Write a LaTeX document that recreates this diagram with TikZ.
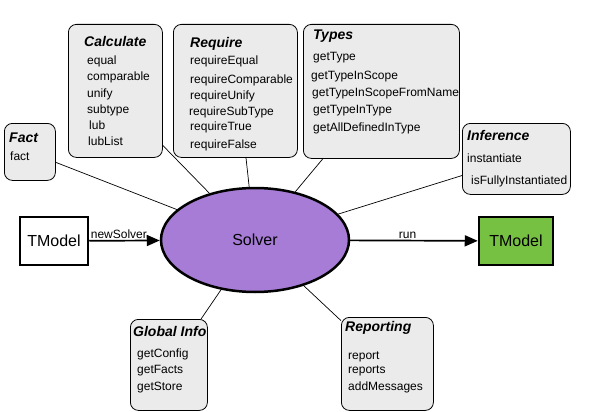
\documentclass[tikz,border=0pt]{standalone}
\usepackage{fontspec}
\setmainfont{Liberation Sans}
\usetikzlibrary{arrows.meta,shapes.geometric}

\definecolor{boxgray}{RGB}{235,235,235}
\definecolor{solverpurple}{RGB}{167,124,214}
\definecolor{modelgreen}{RGB}{119,193,66}

\tikzset{
  group/.style={draw, rounded corners=8pt, fill=boxgray, line width=0.8pt, inner sep=0pt, anchor=north west},
  grouptitle/.style={anchor=west, inner sep=0pt, font=\fontsize{14}{16}\selectfont\bfseries\itshape},
  item/.style={anchor=west, inner sep=0pt, font=\fontsize{12}{14}\selectfont},
  model/.style={draw, line width=2.5pt, inner sep=0pt, minimum height=48pt, font=\fontsize{16}{18}\selectfont},
  link/.style={line width=0.7pt},
  flow/.style={line width=1.7pt, -{Triangle[length=13pt,width=11pt]}},
  flowlabel/.style={anchor=base, inner sep=0pt, yshift=2pt, font=\fontsize{12}{14}\selectfont},
}

\begin{document}
\begin{tikzpicture}[x=1pt, y=-1pt]
  \useasboundingbox (0,0) rectangle (605,412);

  % solver and the two models
  \node[ellipse, draw, line width=2.5pt, fill=solverpurple, inner sep=0pt,
        minimum width=188pt, minimum height=104pt, font=\fontsize{16}{18}\selectfont]
        (solver) at (255,240) {Solver};
  \node[model, fill=white, minimum width=68pt] (tmodelin) at (54,241) {TModel};
  \node[model, fill=modelgreen, minimum width=74pt] (tmodelout) at (516,241) {TModel};
  \draw[flow] (tmodelin) -- node[flowlabel, pos=0.42] (newlbl) {newSolver} (solver);
  \draw[flow] (solver) -- node[flowlabel, pos=0.45] (runlbl) {run} (tmodelout);

  % Fact
  \node[group, minimum width=51pt, minimum height=57pt] (fact) at (4,123) {};
  \node[grouptitle] (facttitle) at (9,137.5) {Fact};
  \node[item] (fact1) at (10,156.5) {fact};

  % Calculate
  \node[group, minimum width=94pt, minimum height=133pt] (calc) at (68,24) {};
  \node[grouptitle] (calctitle) at (84,41) {Calculate};
  \foreach \t/\x/\y [count=\i] in {equal/87/61.7, comparable/87/77.3, unify/87/94,
      subtype/87/110, lub/89/125, lubList/88/141.7}
    \node[item] (calc\i) at (\x,\y) {\t};

  % Require
  \node[group, minimum width=124pt, minimum height=133pt] (req) at (173,24) {};
  \node[grouptitle] (reqtitle) at (190,44) {Require};
  \foreach \t/\x/\y [count=\i] in {requireEqual/190/61.7, requireComparable/190/80,
      requireUnify/190/96.7, requireSubType/189/112.7, requireTrue/190/127.7,
      requireFalse/190/145}
    \node[item] (req\i) at (\x,\y) {\t};

  % Types
  \node[group, minimum width=156pt, minimum height=134pt] (types) at (303,24) {};
  \node[grouptitle] (typestitle) at (313,35.7) {Types};
  \foreach \t/\x/\y [count=\i] in {getType/313/57.3, getTypeInScope/311/76.7,
      getTypeInScopeFromName/312/94, getTypeInType/313/111,
      getAllDefinedInType/313/128.3}
    \node[item] (types\i) at (\x,\y) {\t};

  % Inference
  \node[group, minimum width=108pt, minimum height=71pt] (infer) at (462,123) {};
  \node[grouptitle] (infertitle) at (467,135) {Inference};
  \node[item] (infer1) at (467,158.3) {instantiate};
  \node[item] (infer2) at (471,181) {isFullyInstantiated};

  % Global Info
  \node[group, minimum width=77pt, minimum height=91pt] (global) at (130,319) {};
  \node[grouptitle] (globaltitle) at (133,331.7) {Global Info};
  \foreach \t/\y [count=\i] in {getConfig/354, getFacts/370.7, getStore/387.7}
    \node[item] (global\i) at (137,\y) {\t};

  % Reporting
  \node[group, minimum width=92pt, minimum height=93pt] (report) at (341,317) {};
  \node[grouptitle] (reporttitle) at (345,327.7) {Reporting};
  \foreach \t/\y [count=\i] in {report/356.7, reports/371, addMessages/387.7}
    \node[item] (report\i) at (348,\y) {\t};

  % links to the solver
  \draw[link] (fact.-22) -- (solver);
  \draw[link] (calc.-49) -- (solver);
  \draw[link] (req.-81) -- (solver);
  \draw[link] (types.-131) -- (solver);
  \draw[link] (infer.-163) -- (solver);
  \draw[link] (global.55) -- (solver);
  \draw[link] (report.137) -- (solver);
\end{tikzpicture}
\end{document}
